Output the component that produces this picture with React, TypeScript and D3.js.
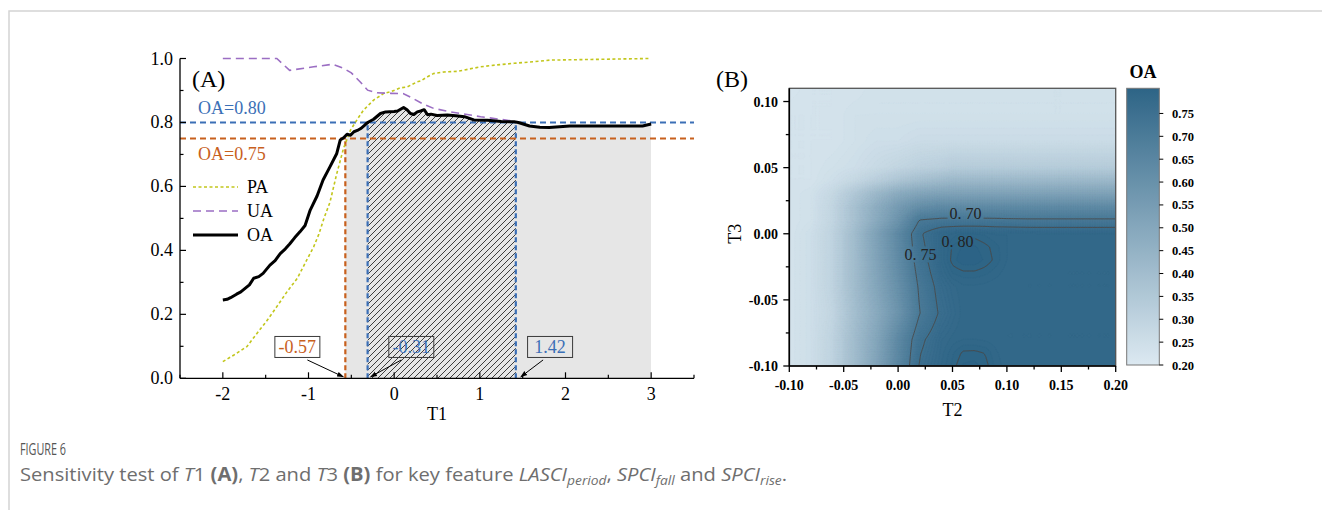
import React from "react";
import * as d3 from "d3";

// ---------- Panel A data ----------
const oaT1 = [-2.0, -1.95, -1.91, -1.84, -1.79, -1.74, -1.69, -1.64, -1.58, -1.53, -1.45, -1.39, -1.33, -1.27, -1.22, -1.16, -1.1, -1.04, -0.98, -0.9, -0.83, -0.75, -0.67, -0.63, -0.59, -0.55, -0.51, -0.47, -0.43, -0.39, -0.35, -0.31, -0.24, -0.16, -0.1, 0.0, 0.04, 0.11, 0.15, 0.19, 0.23, 0.27, 0.31, 0.35, 0.39, 0.43, 0.5, 0.62, 0.72, 0.82, 0.93, 1.09, 1.25, 1.4, 1.45, 1.58, 1.7, 1.81, 2.05, 2.5, 2.9, 3.0];
const oaVal = [0.245, 0.247, 0.252, 0.263, 0.27, 0.281, 0.292, 0.313, 0.318, 0.328, 0.354, 0.368, 0.39, 0.405, 0.42, 0.44, 0.458, 0.478, 0.526, 0.57, 0.62, 0.661, 0.703, 0.745, 0.752, 0.763, 0.76, 0.771, 0.775, 0.781, 0.79, 0.8, 0.81, 0.828, 0.833, 0.834, 0.836, 0.847, 0.84, 0.828, 0.825, 0.833, 0.836, 0.84, 0.824, 0.826, 0.822, 0.823, 0.821, 0.818, 0.808, 0.807, 0.803, 0.802, 0.8, 0.789, 0.785, 0.784, 0.789, 0.789, 0.789, 0.795];

const paT1 = [-2.0, -1.87, -1.72, -1.6, -1.48, -1.37, -1.25, -1.13, -1.02, -0.94, -0.88, -0.82, -0.75, -0.67, -0.59, -0.51, -0.43, -0.36, -0.24, -0.12, -0.04, 0.07, 0.15, 0.27, 0.31, 0.39, 0.46, 0.58, 0.74, 1.01, 1.2, 1.4, 1.63, 1.82, 2.3, 2.97];
const paVal = [0.052, 0.073, 0.099, 0.141, 0.182, 0.224, 0.271, 0.313, 0.37, 0.411, 0.45, 0.5, 0.55, 0.64, 0.72, 0.776, 0.81, 0.838, 0.87, 0.891, 0.896, 0.908, 0.911, 0.927, 0.93, 0.943, 0.953, 0.958, 0.96, 0.974, 0.98, 0.985, 0.99, 0.995, 0.997, 1.0];

const uaT1 = [-2.0, -1.37, -1.22, -0.94, -0.72, -0.59, -0.5, -0.39, -0.31, -0.2, -0.04, 0.11, 0.22, 0.35, 0.46, 0.66, 1.01, 1.32, 1.47];
const uaVal = [1.0, 1.0, 0.963, 0.974, 0.982, 0.969, 0.955, 0.925, 0.901, 0.893, 0.891, 0.89, 0.875, 0.856, 0.844, 0.833, 0.818, 0.807, 0.799];

const t1Ticks = [-2, -1, 0, 1, 2, 3];
const accTicks = [0.0, 0.2, 0.4, 0.6, 0.8, 1.0];
const thrLow = -0.57;
const thrMid = -0.31;
const thrHigh = 1.42;
const t1End = 3.0;
const oaRef80 = 0.8;
const oaRef75 = 0.75;
const legendItems = ["PA", "UA", "OA"];

// ---------- Panel B data ----------
const t2Grid = [-0.1, -0.08, -0.06, -0.04, -0.02, 0.0, 0.02, 0.04, 0.05, 0.06, 0.07, 0.08, 0.09, 0.1, 0.12, 0.14, 0.16, 0.18, 0.2];
const t3Grid = [-0.1, -0.09, -0.08, -0.06, -0.04, -0.03, -0.02, -0.01, 0.0, 0.01, 0.02, 0.03, 0.04, 0.05, 0.07, 0.09, 0.11];
const oaRowM10 = [0.23, 0.25, 0.3, 0.4, 0.51, 0.64, 0.755, 0.786, 0.797, 0.806, 0.807, 0.803, 0.793, 0.787, 0.785, 0.785, 0.785, 0.785, 0.785];
const oaRowM09 = [0.23, 0.25, 0.3, 0.4, 0.505, 0.635, 0.748, 0.783, 0.794, 0.8015, 0.802, 0.7995, 0.791, 0.786, 0.785, 0.785, 0.785, 0.785, 0.785];
const oaRowM08 = [0.23, 0.25, 0.3, 0.4, 0.5, 0.63, 0.74, 0.78, 0.787, 0.79, 0.79, 0.789, 0.787, 0.785, 0.785, 0.785, 0.785, 0.785, 0.785];
const oaRowM06 = [0.23, 0.25, 0.29, 0.39, 0.48, 0.58, 0.7, 0.76, 0.777, 0.788, 0.789, 0.787, 0.786, 0.785, 0.785, 0.785, 0.785, 0.785, 0.785];
const oaRowM04 = [0.23, 0.25, 0.3, 0.4, 0.5, 0.6, 0.71, 0.77, 0.783, 0.789, 0.789, 0.788, 0.786, 0.785, 0.785, 0.785, 0.785, 0.785, 0.785];
const oaRowM03 = [0.23, 0.25, 0.3, 0.4, 0.505, 0.61, 0.72, 0.78, 0.795, 0.798, 0.798, 0.796, 0.792, 0.787, 0.785, 0.785, 0.785, 0.785, 0.785];
const oaRowM02 = [0.23, 0.25, 0.3, 0.4, 0.51, 0.62, 0.73, 0.787, 0.803, 0.809, 0.809, 0.804, 0.798, 0.79, 0.786, 0.785, 0.785, 0.785, 0.785];
const oaRowM01 = [0.23, 0.25, 0.3, 0.4, 0.515, 0.625, 0.738, 0.787, 0.801, 0.806, 0.806, 0.802, 0.797, 0.79, 0.787, 0.786, 0.786, 0.786, 0.786];
const oaRow000 = [0.23, 0.25, 0.3, 0.4, 0.52, 0.63, 0.745, 0.785, 0.792, 0.797, 0.797, 0.794, 0.79, 0.79, 0.788, 0.787, 0.787, 0.787, 0.787];
const oaRow001 = [0.23, 0.24, 0.29, 0.38, 0.48, 0.58, 0.705, 0.715, 0.715, 0.715, 0.715, 0.715, 0.714, 0.712, 0.71, 0.71, 0.71, 0.71, 0.71];
const oaRow002 = [0.23, 0.24, 0.29, 0.38, 0.47, 0.55, 0.61, 0.63, 0.63, 0.63, 0.63, 0.63, 0.63, 0.63, 0.63, 0.63, 0.63, 0.63, 0.63];
const oaRow003 = [0.23, 0.24, 0.28, 0.35, 0.42, 0.48, 0.51, 0.52, 0.52, 0.52, 0.52, 0.52, 0.52, 0.52, 0.52, 0.52, 0.52, 0.52, 0.52];
const oaRow004 = [0.23, 0.23, 0.25, 0.28, 0.32, 0.36, 0.39, 0.41, 0.42, 0.42, 0.42, 0.42, 0.42, 0.42, 0.42, 0.42, 0.42, 0.42, 0.42];
const oaRow005 = [0.23, 0.23, 0.24, 0.25, 0.27, 0.29, 0.31, 0.32, 0.33, 0.33, 0.33, 0.33, 0.33, 0.33, 0.33, 0.33, 0.33, 0.33, 0.33];
const oaRow007 = [0.23, 0.23, 0.23, 0.24, 0.25, 0.25, 0.26, 0.26, 0.26, 0.26, 0.26, 0.26, 0.26, 0.26, 0.26, 0.26, 0.26, 0.26, 0.26];
const oaRow009 = [0.23, 0.23, 0.23, 0.24, 0.24, 0.24, 0.24, 0.24, 0.24, 0.24, 0.24, 0.24, 0.24, 0.24, 0.24, 0.24, 0.24, 0.24, 0.24];
const oaRow011 = [0.22, 0.23, 0.23, 0.23, 0.24, 0.24, 0.24, 0.24, 0.24, 0.24, 0.24, 0.24, 0.24, 0.24, 0.24, 0.24, 0.24, 0.24, 0.24];
const oaGrid = [oaRowM10, oaRowM09, oaRowM08, oaRowM06, oaRowM04, oaRowM03, oaRowM02, oaRowM01, oaRow000, oaRow001, oaRow002, oaRow003, oaRow004, oaRow005, oaRow007, oaRow009, oaRow011];

const t2Ticks = [-0.1, -0.05, 0.0, 0.05, 0.1, 0.15, 0.2];
const t3Ticks = [-0.1, -0.05, 0.0, 0.05, 0.1];
const cbTicks = [0.2, 0.25, 0.3, 0.35, 0.4, 0.45, 0.5, 0.55, 0.6, 0.65, 0.7, 0.75];
const contourLevels = [0.7, 0.75, 0.8];
const contourLabelText = ["0. 70", "0. 80", "0. 75"];
const contourLabelT2 = [0.062, 0.0545, 0.0205];
const contourLabelT3 = [0.0153, -0.0058, -0.0156];

const SERIF = "'Liberation Serif', 'Times New Roman', serif";
const SANS = "'Open Sans', 'Noto Sans', sans-serif";
const BLUE = "#3b6fb6";
const ORANGE = "#c8601d";

function sampleGrid(t2: number, t3: number): number {
  const i = Math.max(0, Math.min(t2Grid.length - 2, d3.bisectRight(t2Grid, t2) - 1));
  const j = Math.max(0, Math.min(t3Grid.length - 2, d3.bisectRight(t3Grid, t3) - 1));
  const fx = Math.max(0, Math.min(1, (t2 - t2Grid[i]) / (t2Grid[i + 1] - t2Grid[i])));
  const fy = Math.max(0, Math.min(1, (t3 - t3Grid[j]) / (t3Grid[j + 1] - t3Grid[j])));
  const v00 = oaGrid[j][i], v10 = oaGrid[j][i + 1], v01 = oaGrid[j + 1][i], v11 = oaGrid[j + 1][i + 1];
  return (1 - fy) * ((1 - fx) * v00 + fx * v10) + fy * ((1 - fx) * v01 + fx * v11);
}

export default function App() {
  // Panel A scales
  const xA = d3.scaleLinear().domain([-2.5, 3.5]).range([180, 694]);
  const yA = d3.scaleLinear().domain([0, 1]).range([378.3, 58.5]);
  const pts = (xs: number[], ys: number[]) => xs.map((x, i) => [x, ys[i]] as [number, number]);
  const line = d3.line<[number, number]>().x((d) => xA(d[0])).y((d) => yA(d[1]));
  const area = d3.area<[number, number]>().x((d) => xA(d[0])).y0(yA(0)).y1((d) => yA(d[1]));
  const oaPts = pts(oaT1, oaVal);
  const minorT1 = d3.range(-2.5, 3.51, 0.5).filter((v) => !t1Ticks.some((t) => Math.abs(t - v) < 1e-6));
  const minorAcc = d3.range(0.1, 1.0, 0.2);

  // Panel B scales
  const xB = d3.scaleLinear().domain([-0.1, 0.2]).range([789.3, 1115.7]);
  const yB = d3.scaleLinear().domain([-0.1, 0.11]).range([366, 88.3]);
  const color = d3.scaleLinear<string>().domain([0.2, 0.805]).range(["#dce9f1", "#2d6486"]).interpolate(d3.interpolateRgb);
  const bx0 = xB(-0.1), bx1 = xB(0.2), by0 = yB(0.11), by1 = yB(-0.1);
  const nx = 190, ny = 160;
  const sx = (bx1 - bx0) / nx, sy = (by1 - by0) / ny;
  const values: number[] = new Array(nx * ny);
  for (let r = 0; r < ny; r++) {
    const t3 = yB.invert(by0 + (r + 0.5) * sy);
    for (let c = 0; c < nx; c++) {
      const t2 = xB.invert(bx0 + (c + 0.5) * sx);
      values[r * nx + c] = sampleGrid(t2, t3);
    }
  }
  const toPath = (mp: any) =>
    mp.coordinates
      .map((poly: number[][][]) =>
        poly
          .map((ring) => "M" + ring.map(([cx, cy]) => `${(bx0 + cx * sx).toFixed(2)},${(by0 + cy * sy).toFixed(2)}`).join("L") + "Z")
          .join("")
      )
      .join("");
  const fillThr = d3.range(0.2, 0.83, 0.005);
  const bands = d3.contours().size([nx, ny]).thresholds(fillThr)(values);
  const isoLines = d3.contours().size([nx, ny]).thresholds(contourLevels)(values);
  const minorT2 = d3.range(-0.075, 0.2, 0.05);
  const minorT3 = d3.range(-0.075, 0.11, 0.05);

  // colorbar
  const cbX0 = 1126.7, cbX1 = 1159.3;
  const yC = d3.scaleLinear().domain([0.2, 0.805]).range([365, 88.3]);
  const gradStops = d3.range(0, 1.0001, 0.05);

  const annots = [
    { v: thrLow, label: "-0.57", col: ORANGE, bx: -1.13, dx0: 10, dx1: -2 },
    { v: thrMid, label: "-0.31", col: BLUE, bx: 0.2, dx0: -10, dx1: 3 },
    { v: thrHigh, label: "1.42", col: BLUE, bx: 1.82, dx0: -7, dx1: 5 },
  ];

  const tickFont = { fontFamily: SERIF, fontSize: 18 } as const;

  return (
    <svg width={1322} height={510} style={{ position: "absolute", left: 0, top: 0, background: "#fff" }} xmlns="http://www.w3.org/2000/svg">
      <defs>
        <pattern id="hatch" patternUnits="userSpaceOnUse" width={6} height={6}>
          <path d="M-1,1 l2,-2 M0,6 l6,-6 M5,7 l2,-2" stroke="#2a2a2a" strokeWidth={0.9} />
        </pattern>
        <clipPath id="grayClip">
          <rect x={xA(thrLow)} y={0} width={xA(t1End) - xA(thrLow)} height={510} />
        </clipPath>
        <clipPath id="hatchClip">
          <rect x={xA(thrMid)} y={0} width={xA(thrHigh) - xA(thrMid)} height={510} />
        </clipPath>
        <clipPath id="plotB">
          <rect x={bx0} y={by0} width={bx1 - bx0} height={by1 - by0} />
        </clipPath>
        <marker id="arrow" viewBox="0 0 10 10" refX={9} refY={5} markerWidth={7} markerHeight={7} orient="auto" markerUnits="userSpaceOnUse">
          <path d="M0,1.5 L10,5 L0,8.5 Z" fill="#000" />
        </marker>
        <mask id="labelMask">
          <rect x={bx0} y={by0} width={bx1 - bx0} height={by1 - by0} fill="#fff" />
          {contourLabelText.map((t, i) => (
            <rect key={t} x={xB(contourLabelT2[i]) - 18} y={yB(contourLabelT3[i]) - 8} width={36} height={16} fill="#000" />
          ))}
        </mask>
        <linearGradient id="cbGrad" x1="0" y1="1" x2="0" y2="0">
          {gradStops.map((f) => (
            <stop key={f} offset={f} stopColor={color(0.2 + f * 0.605)} />
          ))}
        </linearGradient>
      </defs>

      {/* page frame */}
      <path d="M9,510 L9,11 L1322,11" fill="none" stroke="#d4d4d4" strokeWidth={1.5} />

      {/* ---------------- Panel A ---------------- */}
      <path d={area(oaPts) || ""} fill="#e6e6e6" clipPath="url(#grayClip)" />
      <path d={area(oaPts) || ""} fill="url(#hatch)" clipPath="url(#hatchClip)" />

      <line x1={xA(thrLow)} x2={xA(thrLow)} y1={yA(0)} y2={yA(oaRef75)} stroke={ORANGE} strokeWidth={2.2} strokeDasharray="5 3" />
      <line x1={xA(thrMid)} x2={xA(thrMid)} y1={yA(0)} y2={yA(oaRef80)} stroke={BLUE} strokeWidth={2.2} strokeDasharray="5 3" />
      <line x1={xA(thrHigh)} x2={xA(thrHigh)} y1={yA(0)} y2={yA(oaRef80)} stroke={BLUE} strokeWidth={2.2} strokeDasharray="5 3" />
      <line x1={xA(-2.5)} x2={xA(3.5)} y1={yA(oaRef80)} y2={yA(oaRef80)} stroke={BLUE} strokeWidth={2} strokeDasharray="6 4" />
      <line x1={xA(-2.5)} x2={xA(3.5)} y1={yA(oaRef75)} y2={yA(oaRef75)} stroke={ORANGE} strokeWidth={2} strokeDasharray="6 4" />

      <path d={line(pts(paT1, paVal)) || ""} fill="none" stroke="#c2c61c" strokeWidth={1.6} strokeDasharray="3 2.5" />
      <path d={line(pts(uaT1, uaVal)) || ""} fill="none" stroke="#9b6ec3" strokeWidth={1.6} strokeDasharray="8 5" />
      <path d={line(oaPts) || ""} fill="none" stroke="#000" strokeWidth={3} strokeLinejoin="round" />

      <text x={xA(-2.29)} y={yA(oaRef80) - 8} fill={BLUE} {...tickFont}>OA=0.80</text>
      <text x={xA(-2.29)} y={yA(oaRef75) + 22} fill={ORANGE} {...tickFont}>OA=0.75</text>
      <text x={192} y={87} fontFamily={SERIF} fontSize={24}>(A)</text>

      {/* legend */}
      {legendItems.map((k, i) => {
        const y = 187 + i * 24;
        const st =
          k === "PA"
            ? { stroke: "#c2c61c", strokeWidth: 1.6, strokeDasharray: "3 2.5" }
            : k === "UA"
            ? { stroke: "#9b6ec3", strokeWidth: 1.6, strokeDasharray: "8 5" }
            : { stroke: "#000", strokeWidth: 3 };
        return (
          <g key={k}>
            <line x1={193} x2={238} y1={y} y2={y} {...st} />
            <text x={247} y={y + 6} {...tickFont}>{k}</text>
          </g>
        );
      })}

      {/* annotations */}
      {annots.map((a) => {
        const cx = xA(a.bx);
        const cy = yA(0.098);
        return (
          <g key={a.label}>
            <rect x={cx - 22.5} y={cy - 10.5} width={45} height={21} fill="none" stroke="#3a3a3a" strokeWidth={1} />
            <text x={cx} y={cy + 6} textAnchor="middle" fill={a.col} {...tickFont}>{a.label}</text>
            <line x1={cx + a.dx0} y1={cy + 13} x2={xA(a.v) + a.dx1} y2={yA(0) - 1.5} stroke="#000" strokeWidth={1} markerEnd="url(#arrow)" />
          </g>
        );
      })}

      {/* axes A */}
      <line x1={xA(-2.5)} x2={xA(3.5)} y1={yA(0)} y2={yA(0)} stroke="#000" strokeWidth={1.3} />
      <line x1={xA(-2.5)} x2={xA(-2.5)} y1={yA(0)} y2={yA(1)} stroke="#000" strokeWidth={1.3} />
      {t1Ticks.map((t) => (
        <g key={t}>
          <line x1={xA(t)} x2={xA(t)} y1={yA(0)} y2={yA(0) - 6} stroke="#000" strokeWidth={1.2} />
          <text x={xA(t)} y={400} textAnchor="middle" {...tickFont}>{String(t)}</text>
        </g>
      ))}
      {minorT1.map((t) => (
        <line key={t} x1={xA(t)} x2={xA(t)} y1={yA(0)} y2={yA(0) - 3.5} stroke="#000" strokeWidth={1.2} />
      ))}
      {accTicks.map((t) => (
        <g key={t}>
          <line x1={xA(-2.5)} x2={xA(-2.5) + 6} y1={yA(t)} y2={yA(t)} stroke="#000" strokeWidth={1.2} />
          <text x={173} y={yA(t) + 6} textAnchor="end" {...tickFont}>{t.toFixed(1)}</text>
        </g>
      ))}
      {minorAcc.map((t) => (
        <line key={t} x1={xA(-2.5)} x2={xA(-2.5) + 3.5} y1={yA(t)} y2={yA(t)} stroke="#000" strokeWidth={1.2} />
      ))}
      <text x={(xA(-2.5) + xA(3.5)) / 2} y={420} textAnchor="middle" {...tickFont}>T1</text>

      {/* ---------------- Panel B ---------------- */}
      <g clipPath="url(#plotB)">
        <rect x={bx0} y={by0} width={bx1 - bx0} height={by1 - by0} fill={color(0.2)} />
        {bands.map((b, i) => (
          <path key={i} d={toPath(b)} fill={color(b.value + 0.0025)} stroke={color(b.value + 0.0025)} strokeWidth={0.3} />
        ))}
        <g mask="url(#labelMask)">
          {isoLines.map((b, i) => (
            <path key={i} d={toPath(b)} fill="none" stroke="#4a4a4a" strokeWidth={0.9} />
          ))}
        </g>
      </g>
      {contourLabelText.map((t, i) => (
        <text key={t} x={xB(contourLabelT2[i])} y={yB(contourLabelT3[i]) + 5.5} textAnchor="middle" fontFamily={SERIF} fontSize={16} fill="#222">
          {t}
        </text>
      ))}
      <rect x={bx0} y={by0} width={bx1 - bx0} height={by1 - by0} fill="none" stroke="#555" strokeWidth={1.3} />
      <line x1={bx0} x2={bx1} y1={by1} y2={by1} stroke="#000" strokeWidth={1.6} />
      <line x1={bx0} x2={bx0} y1={by0} y2={by1} stroke="#000" strokeWidth={1.6} />
      {t2Ticks.map((t) => (
        <g key={t}>
          <line x1={xB(t)} x2={xB(t)} y1={by1} y2={by1 + 6} stroke="#000" strokeWidth={1.3} />
          <text x={xB(t)} y={390} textAnchor="middle" fontFamily={SERIF} fontSize={14} fontWeight="bold">{t.toFixed(2)}</text>
        </g>
      ))}
      {minorT2.map((t) => (
        <line key={t} x1={xB(t)} x2={xB(t)} y1={by1} y2={by1 + 3.5} stroke="#000" strokeWidth={1.3} />
      ))}
      {t3Ticks.map((t) => (
        <g key={t}>
          <line x1={bx0} x2={bx0 - 6} y1={yB(t)} y2={yB(t)} stroke="#000" strokeWidth={1.3} />
          <text x={778} y={yB(t) + 5} textAnchor="end" fontFamily={SERIF} fontSize={14} fontWeight="bold">{t.toFixed(2)}</text>
        </g>
      ))}
      {minorT3.map((t) => (
        <line key={t} x1={bx0} x2={bx0 - 3.5} y1={yB(t)} y2={yB(t)} stroke="#000" strokeWidth={1.3} />
      ))}
      <text x={(bx0 + bx1) / 2} y={416} textAnchor="middle" fontFamily={SERIF} fontSize={18}>T2</text>
      <text transform={`translate(741,${yB(0)}) rotate(-90)`} textAnchor="middle" fontFamily={SERIF} fontSize={18}>T3</text>
      <text x={716} y={87} fontFamily={SERIF} fontSize={24}>(B)</text>

      {/* colorbar */}
      <rect x={cbX0} y={yC(0.805)} width={cbX1 - cbX0} height={yC(0.2) - yC(0.805)} fill="url(#cbGrad)" stroke="#777" strokeWidth={1} />
      {cbTicks.map((t) => (
        <g key={t}>
          <line x1={cbX1} x2={cbX1 + 4} y1={yC(t)} y2={yC(t)} stroke="#000" strokeWidth={1} />
          <text x={1172} y={yC(t) + 4.5} fontFamily={SERIF} fontSize={12.5} fontWeight="bold">{t.toFixed(2)}</text>
        </g>
      ))}
      <text x={(cbX0 + cbX1) / 2} y={78} textAnchor="middle" fontFamily={SERIF} fontSize={18} fontWeight="bold">OA</text>

      {/* caption */}
      <text x={20} y={455} fontFamily={SANS} fontSize={16} fill="#555" textLength={46} lengthAdjust="spacingAndGlyphs">FIGURE 6</text>
      <text x={20} y={481} fontFamily={SANS} fontSize={19} fill="#6e6e6e" textLength={767} lengthAdjust="spacingAndGlyphs">
        Sensitivity test of <tspan fontStyle="italic">T</tspan>1 <tspan fontWeight="bold">(A)</tspan>, <tspan fontStyle="italic">T</tspan>2 and{" "}
        <tspan fontStyle="italic">T</tspan>3 <tspan fontWeight="bold">(B)</tspan> for key feature <tspan fontStyle="italic">LASCI</tspan>
        <tspan fontStyle="italic" fontSize={13} dy={4}>period</tspan>
        <tspan dy={-4}>, </tspan>
        <tspan fontStyle="italic">SPCI</tspan>
        <tspan fontStyle="italic" fontSize={13} dy={4}>fall</tspan>
        <tspan dy={-4}> and </tspan>
        <tspan fontStyle="italic">SPCI</tspan>
        <tspan fontStyle="italic" fontSize={13} dy={4}>rise</tspan>
        <tspan dy={-4}>.</tspan>
      </text>
    </svg>
  );
}
